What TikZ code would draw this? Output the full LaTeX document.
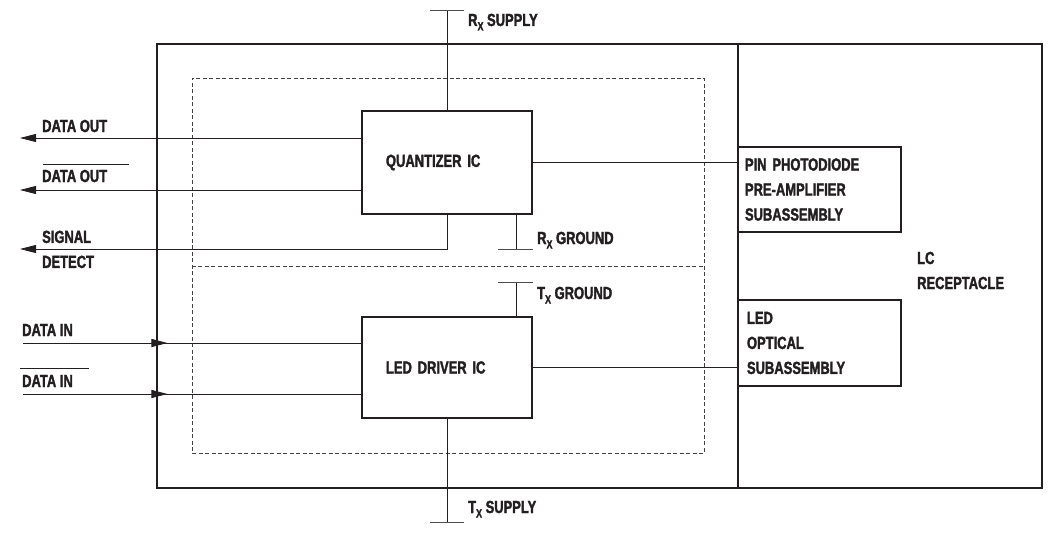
\documentclass[tikz,border=0pt]{standalone}
\usepackage{fontspec}
\newfontfamily\lblfont{Liberation Sans}[BoldFont={Liberation Sans Bold}, FakeStretch=0.74, BoldFeatures={FakeStretch=0.74, FakeBold=1.8}]
\usetikzlibrary{arrows.meta,calc}
\definecolor{ink}{RGB}{35,31,32}
\newcommand{\subx}[1]{\raisebox{-4.5pt}{\fontsize{12}{12}\selectfont #1}}
\tikzset{
  every node/.style={font=\lblfont\bfseries\fontsize{17.5}{25}\selectfont, text=ink},
  box/.style={draw=ink, line width=1.1pt, inner sep=0pt, minimum width=#1},
  txt/.style={inner sep=0pt, align=left},
  wire/.style={draw=ink, line width=0.8pt},
  tip/.style={wire, -{Triangle[length=16pt,width=8pt]}},
  dashbox/.style={draw=ink!85, line width=0.7pt, dash pattern=on 4pt off 2.5pt},
  barline/.style={draw=ink!80, line width=0.9pt}
}
\begin{document}
\begin{tikzpicture}[x=1pt,y=-1pt]
\useasboundingbox (0,0) rectangle (1058,535);
% main boxes
\node[box=581pt, minimum height=444pt] (outer) at (447.5,266) {};
\node[box=304pt, minimum height=444pt] (lc) at (890,266) {};
\node[dashbox, minimum width=512pt, minimum height=375pt, inner sep=0pt] (dash) at (448,265.5) {};
\draw[dashbox] (dash.west |- 0,266) -- (dash.east |- 0,266);
\node[txt, anchor=west] (lctxt) at (917,270.5) {LC\\RECEPTACLE};
% ICs
\node[box=170pt, minimum height=103pt, text width=122pt, align=left] (quant) at (447,162.5) {QUANTIZER IC};
\node[box=170pt, minimum height=101pt, text width=122pt, align=left] (ledd) at (447,367.5) {LED DRIVER IC};
% subassemblies
\node[box=163pt, minimum height=85pt, text width=149pt, align=left] (pin) at (819.5,189.5) {PIN PHOTODIODE\\PRE-AMPLIFIER\\SUBASSEMBLY};
\node[box=163pt, minimum height=86pt, text width=145pt, align=left, xshift=2pt] (ledo) at (817.5,343) {LED\\OPTICAL\\SUBASSEMBLY};
% internal connections
\draw[wire] (quant.east) -- (quant.east -| pin.west);
\draw[wire] (ledd.east) -- (ledd.east -| outer.east);
% supplies
\coordinate (rxs) at (447,10);
\coordinate (txs) at (447,522);
\draw[wire] (quant.north) -- (rxs);
\draw[barline] ([xshift=-17pt]rxs) -- ([xshift=17pt]rxs);
\draw[wire] (ledd.south) -- (txs);
\draw[barline] ([xshift=-17pt]txs) -- ([xshift=17pt]txs);
\node[txt, anchor=base west] (rxsl) at (468,26) {R\subx{X} SUPPLY};
\node[txt, anchor=base west] (txsl) at (468,513) {T\subx{X} SUPPLY};
% grounds
\coordinate (rxg) at (516,249);
\coordinate (txg) at (516,282);
\draw[wire] (quant.south -| rxg) -- (rxg);
\draw[barline] ([xshift=-18pt]rxg) -- ([xshift=17pt]rxg);
\draw[wire] (txg) -- (ledd.north -| txg);
\draw[barline] ([xshift=-18pt]txg) -- ([xshift=17pt]txg);
\node[txt, anchor=base west] (rxgl) at (537,244) {R\subx{X} GROUND};
\node[txt, anchor=base west] (txgl) at (537,299) {T\subx{X} GROUND};
% outputs
\coordinate (dout) at (20,138);
\coordinate (doutb) at (20,190);
\coordinate (sd) at (20,249);
\draw[tip] (quant.west |- dout) -- (dout);
\draw[tip] (quant.west |- doutb) -- (doutb);
\draw[tip] (quant.south) |- (sd);
\node[txt, anchor=base west] (doutl) at (42,132) {DATA OUT};
\node[txt, anchor=base west] (doutbl) at (42,182) {DATA OUT};
\draw[wire, line width=0.7pt] ($(doutbl.base west)+(1,-18)$) -- ++(86,0);
\node[txt, anchor=west] (sdl) at (42,249.4) {SIGNAL\\DETECT};
% inputs
\coordinate (din) at (23,343);
\coordinate (dinb) at (23,394);
\draw[wire] (din) -- (din -| ledd.west);
\draw[tip] (din) -- ([xshift=11pt]din -| outer.west);
\draw[wire] (dinb) -- (dinb -| ledd.west);
\draw[tip] (dinb) -- ([xshift=11pt]dinb -| outer.west);
\node[txt, anchor=base west] (dinl) at (22,336) {DATA IN};
\node[txt, anchor=base west] (dinbl) at (22,387) {DATA IN};
\draw[wire, line width=0.7pt] ($(dinbl.base west)+(-2,-19)$) -- ++(69,0);
\end{tikzpicture}
\end{document}
